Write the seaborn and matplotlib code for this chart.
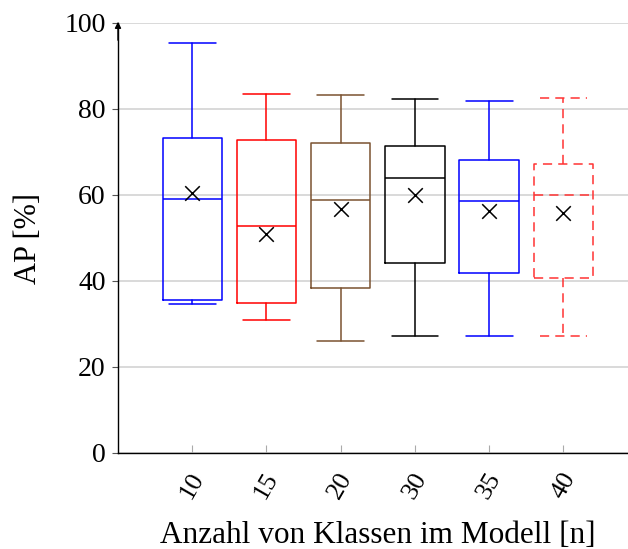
import matplotlib
matplotlib.use("Agg")
import matplotlib.pyplot as plt
import seaborn as sns
import pandas as pd

# ---- data ----
classes = ["10", "15", "20", "30", "35", "40"]
whisker_low = [34.6, 30.9, 26.0, 27.1, 27.1, 27.2]
q1 = [35.5, 35.0, 38.3, 44.1, 41.9, 40.6]
median = [59.0, 52.9, 58.8, 64.0, 58.6, 60.0]
q3 = [73.3, 72.7, 72.2, 71.4, 68.1, 67.1]
whisker_high = [95.3, 83.6, 83.3, 82.3, 81.9, 82.6]
mean = [60.5, 50.9, 56.7, 60.0, 56.3, 55.7]
colors = ["#0000ff", "#ff0000", "#7a5230", "#000000", "#0000ff", "#ff3333"]
styles = ["-", "-", "-", "-", "-", (0, (6, 4))]

sns.set_theme(style="white")
plt.rcParams["font.family"] = ["Liberation Serif", "DejaVu Serif"]
plt.rcParams["text.color"] = "black"
plt.rcParams["axes.labelcolor"] = "black"
plt.rcParams["xtick.labelcolor"] = "black"
plt.rcParams["ytick.labelcolor"] = "black"

fig = plt.figure(figsize=(6.28, 5.49), dpi=100)
ax = fig.add_axes([118 / 628, 96 / 549, 510 / 628, 430 / 549])

positions = list(range(1, len(classes) + 1))
stats = []
for i, c in enumerate(classes):
    stats.append(dict(label=c, whislo=whisker_low[i], q1=q1[i], med=median[i],
                      q3=q3[i], whishi=whisker_high[i], mean=mean[i], fliers=[]))

for i, st in enumerate(stats):
    col = colors[i]
    ls = styles[i]
    lp = dict(color=col, linewidth=1.1, linestyle=ls)
    ax.bxp([st], positions=[positions[i]], widths=0.8, showmeans=False,
           showfliers=False, patch_artist=False,
           boxprops=lp, whiskerprops=lp, capprops=lp, medianprops=lp,
           capwidths=0.63, manage_ticks=False, zorder=3)

df = pd.DataFrame({"pos": positions, "mean": mean})
sns.scatterplot(data=df, x="pos", y="mean", marker="x", color="black", s=110,
                linewidth=1.1, ax=ax, zorder=4, legend=False)

ax.set_xlim(0, 6.87)
ax.set_ylim(0, 100)
ax.set_yticks([0, 20, 40, 60, 80, 100])
ax.set_xticks(positions)
ax.set_xticklabels(classes, rotation=60, ha="center", va="top")
ax.yaxis.grid(True, color="#d0d0d0", linewidth=1.1, zorder=0)
ax.xaxis.grid(False)
ax.set_axisbelow(True)

for s in ["top", "right"]:
    ax.spines[s].set_visible(False)
for s in ["left", "bottom"]:
    ax.spines[s].set_color("black")
    ax.spines[s].set_linewidth(1.0)

ax.tick_params(axis="y", direction="out", length=4, width=0.8, color="#555555",
               labelsize=20, pad=5, left=True)
ax.tick_params(axis="x", direction="in", length=6, width=0.8, color="#aaaaaa",
               labelsize=19, pad=11, bottom=True)

ax.set_xlabel("")
ax.set_ylabel("AP [%]", fontsize=22)
ax.yaxis.set_label_coords(-0.148, 0.5)
ax.text(0.51, -0.193, "Anzahl von Klassen im Modell [n]", transform=ax.transAxes,
        ha="center", va="center", fontsize=22.5)

ax.annotate("", xy=(0, 1.003), xytext=(0, 0.96), xycoords="axes fraction",
            arrowprops=dict(arrowstyle="-|>", lw=1.0, color="black",
                            mutation_scale=9, shrinkA=0, shrinkB=0))

fig.savefig("out.png", dpi=100)
